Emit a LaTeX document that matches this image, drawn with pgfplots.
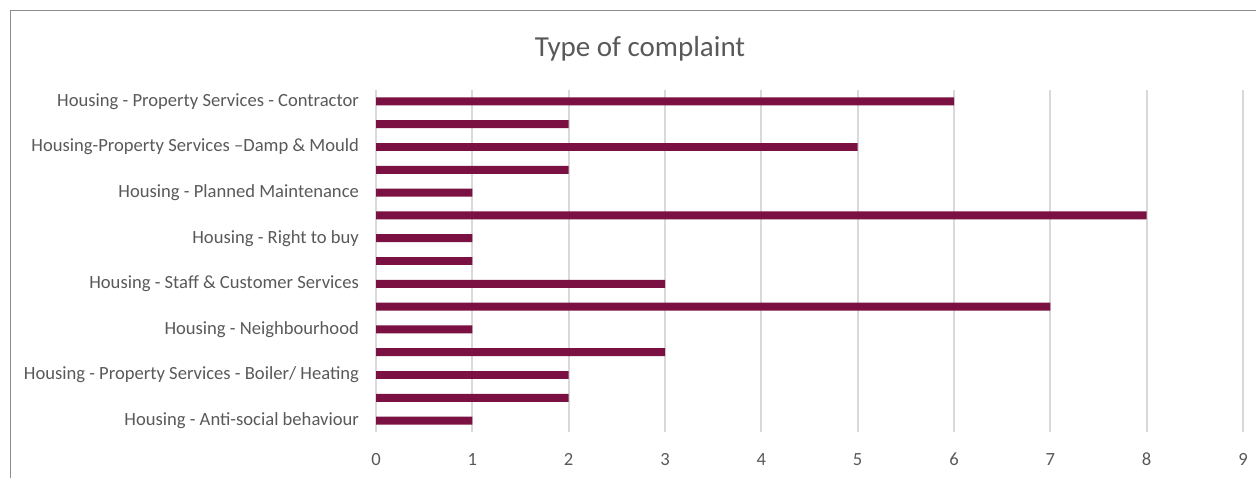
\documentclass[border=0pt]{standalone}
\usepackage{pgfplots}
\pgfplotsset{compat=1.18}
\usepackage{fontspec}
\setmainfont{Carlito}
\definecolor{barred}{HTML}{7B1142}
\definecolor{txt}{HTML}{595959}
\definecolor{gridc}{HTML}{D9D9D9}
\begin{document}
\begin{tikzpicture}
\useasboundingbox (0pt,0pt) rectangle (628pt,239pt);
% chart frame (right and bottom edges are cut off in the reference)
\draw[color=black!45, line width=0.5pt] (5pt,0pt) -- (5pt,233.5pt) -- (628pt,233.5pt);
\node[text=txt, font=\fontsize{14.5}{17}\selectfont] at (320pt,214.5pt) {Type of complaint};
\begin{axis}[
    at={(188pt,23pt)}, anchor=south west,
    scale only axis, width=433.5pt, height=171pt,
    xbar, bar width=0.35,
    xmin=0, xmax=9, ymin=0.5, ymax=15.5,
    xtick={0,1,...,9},
    ytick={1,3,5,7,9,11,13,15},
    yticklabels={Housing - Anti-social behaviour,
                 Housing - Property Services - Boiler/ Heating,
                 Housing - Neighbourhood,
                 Housing - Staff \& Customer Services,
                 Housing - Right to buy,
                 Housing - Planned Maintenance,
                 Housing-Property Services --Damp \& Mould,
                 Housing - Property Services - Contractor},
    axis x line*=bottom, axis y line*=left,
    x axis line style={draw=none},
    y axis line style={gridc, line width=0.9pt},
    xmajorgrids, grid style={gridc, line width=0.9pt},
    major tick length=0pt,
    tick style={draw=none},
    ticklabel style={text=txt, font=\fontsize{9.3}{11}\selectfont},
    /pgf/number format/assume math mode=true,
    yticklabel style={xshift=-5pt},
    xticklabel style={yshift=-7pt},
    clip=false,
]
\addplot[draw=none, fill=barred] coordinates {
 (1,1) (2,2) (2,3) (3,4) (1,5) (7,6) (3,7) (1,8)
 (1,9) (8,10) (1,11) (2,12) (5,13) (2,14) (6,15)
};
\end{axis}
\end{tikzpicture}
\end{document}
